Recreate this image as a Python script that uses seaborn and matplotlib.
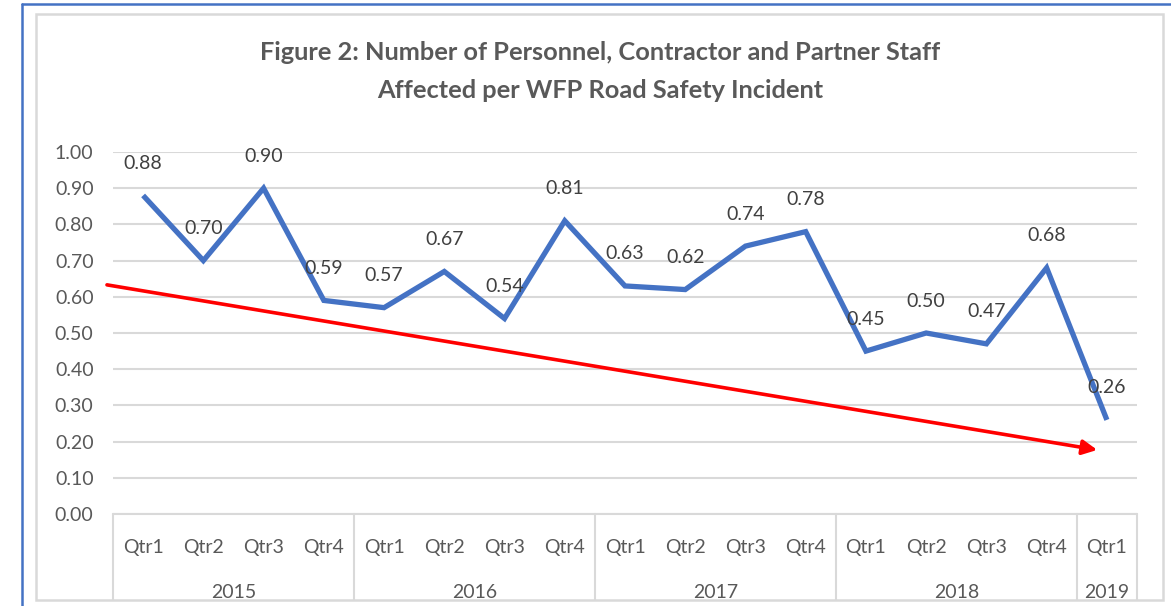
import matplotlib
matplotlib.use("Agg")
import matplotlib.pyplot as plt
import matplotlib.transforms as mtransforms
from matplotlib.lines import Line2D
from matplotlib.patches import Rectangle
import seaborn as sns
import pandas as pd
import numpy as np

# --- data ---
quarters = ["Qtr1", "Qtr2", "Qtr3", "Qtr4",
            "Qtr1", "Qtr2", "Qtr3", "Qtr4",
            "Qtr1", "Qtr2", "Qtr3", "Qtr4",
            "Qtr1", "Qtr2", "Qtr3", "Qtr4",
            "Qtr1"]
years = ["2015"] * 4 + ["2016"] * 4 + ["2017"] * 4 + ["2018"] * 4 + ["2019"]
values = [0.88, 0.70, 0.90, 0.59, 0.57, 0.67, 0.54, 0.81,
          0.63, 0.62, 0.74, 0.78, 0.45, 0.50, 0.47, 0.68, 0.26]
yticks = [0.0, 0.1, 0.2, 0.3, 0.4, 0.5, 0.6, 0.7, 0.8, 0.9, 1.0]

# hand-drawn red trend arrow (category index, value)
trend_start = (-0.6, 0.633)
trend_end = (15.84, 0.177)

title_lines = ["Figure 2: Number of Personnel, Contractor and Partner Staff",
               "Affected per WFP Road Safety Incident"]

df = pd.DataFrame({"quarter": quarters, "year": years, "value": values})
df["idx"] = np.arange(len(df))

# --- style ---
sns.set_theme(style="white")
plt.rcParams["font.family"] = ["Lato", "DejaVu Sans"]

LINE_BLUE = "#4472C4"
GRID = "#D9D9D9"
TXT = "#595959"
LBL = "#404040"

W, H = 1171, 606
fig = plt.figure(figsize=(W / 100, H / 100), dpi=100)
ax = fig.add_axes([113 / W, 1 - 514 / H, (1137 - 113) / W, (514 - 152) / H])

sns.lineplot(data=df, x="idx", y="value", ax=ax, color=LINE_BLUE,
             linewidth=3.8, solid_capstyle="butt", solid_joinstyle="miter")

ax.set_xlim(-0.5, len(df) - 0.5)
ax.set_ylim(0, 1.0)
ax.set_yticks(yticks)
ax.set_yticklabels([f"{v:.2f}" for v in yticks], color=TXT, fontsize=14)
ax.tick_params(axis="y", length=0, pad=14)
ax.set_xticks([])
ax.set_xlabel("")
ax.set_ylabel("")
for s in ax.spines.values():
    s.set_visible(False)
ax.grid(axis="y", color=GRID, linewidth=1.5)
ax.set_axisbelow(True)
ax.axhline(0, color=GRID, linewidth=1.5, clip_on=False)

# data labels above points
for i, v in zip(df["idx"], df["value"]):
    ax.annotate(f"{v:.2f}", (i, v), xytext=(0, 23), textcoords="offset points",
                ha="center", va="center", color=LBL, fontsize=14)

# multi-level category axis
trans = mtransforms.blended_transform_factory(ax.transData, ax.transAxes)
box_bottom = -(600 - 514) / (514 - 152)
for i, q in enumerate(quarters):
    ax.text(i, -(547 - 514) / (514 - 152), q, transform=trans, ha="center",
            va="center", color=TXT, fontsize=14)

bounds = [-0.5]
for yr in pd.unique(df["year"]):
    sub = df[df["year"] == yr]
    ax.text(sub["idx"].mean(), -(592 - 514) / (514 - 152), yr, transform=trans,
            ha="center", va="center", color=TXT, fontsize=14)
    bounds.append(sub["idx"].max() + 0.5)
for b in bounds:
    ax.plot([b, b], [0, box_bottom], transform=trans, color=GRID,
            linewidth=1.5, clip_on=False)

# trend arrow
ax.annotate("", xy=trend_end, xytext=trend_start,
            arrowprops=dict(arrowstyle="-|>", color="#FF0000", lw=2.6,
                            mutation_scale=22, shrinkA=0, shrinkB=0))

# title
for k, line in enumerate(title_lines):
    fig.text(600 / W, 1 - (52 + 38 * k) / H, line, ha="center", va="center",
             fontsize=18.3, fontweight="bold", color=TXT)

# chart borders
fig.patches.append(Rectangle((36 / W, 1 - 600 / H), (1163 - 36) / W, (600 - 14) / H,
                             transform=fig.transFigure, fill=False,
                             edgecolor=GRID, linewidth=1.8))
fig.lines.append(Line2D([22 / W, 22 / W], [0, 1 - 4 / H], transform=fig.transFigure,
                        color=LINE_BLUE, linewidth=1.8))
fig.lines.append(Line2D([22 / W, 1], [1 - 4 / H, 1 - 4 / H], transform=fig.transFigure,
                        color=LINE_BLUE, linewidth=1.8))

fig.savefig("out.png", dpi=100)
